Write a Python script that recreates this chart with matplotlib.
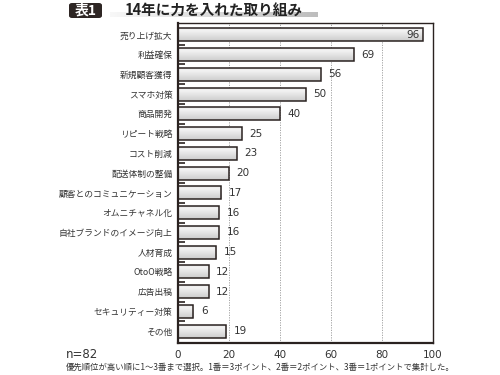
import numpy as np
import matplotlib
matplotlib.use("Agg")
import matplotlib.pyplot as plt
from matplotlib.patches import FancyBboxPatch

plt.rcParams['font.family'] = ['Noto Sans CJK JP', 'DejaVu Sans']

categories = ["売り上げ拡大", "利益確保", "新規顧客獲得", "スマホ対策", "商品開発",
              "リピート戦略", "コスト削減", "配送体制の整備", "顧客とのコミュニケーション",
              "オムニチャネル化", "自社ブランドのイメージ向上", "人材育成", "OtoO戦略",
              "広告出稿", "セキュリティー対策", "その他"]
values = [96, 69, 56, 50, 40, 25, 23, 20, 17, 16, 16, 15, 12, 12, 6, 19]
xticks = [0, 20, 40, 60, 80, 100]

title = "14年に力を入れた取り組み"
sample = "n=82"
note = "優先順位が高い順に1～3番まで選択。1番＝3ポイント、2番＝2ポイント、3番＝1ポイントで集計した。"

fig = plt.figure(figsize=(5, 3.75), dpi=100)
ax = fig.add_axes([178/500, 1 - 343/375, 255/500, 320/375])

n = len(categories)
y = np.arange(n)
h = 0.66

# bar shading: light rim on top, getting darker to the bottom
grad = np.concatenate([np.linspace(0.86, 0.96, 16), np.linspace(0.95, 0.80, 48)]).reshape(-1, 1)

bars = ax.barh(y, values, height=h, color="none", edgecolor="#2a2220", linewidth=1.1, zorder=3)
for b in bars:
    x0, y0 = b.get_x(), b.get_y()
    w, hh = b.get_width(), b.get_height()
    im = ax.imshow(grad, cmap="gray", vmin=0, vmax=1, aspect="auto",
                   extent=[x0, x0 + w, y0 + hh, y0], zorder=2, interpolation="bicubic")
    im.set_clip_path(b)

for i, v in enumerate(values):
    if v > 90:
        ax.text(v - 1.2, i, str(v), ha="right", va="center", fontsize=7.5, color="#333333",
                family="DejaVu Sans", zorder=4)
    else:
        ax.text(v + 3, i, str(v), ha="left", va="center", fontsize=7.5, color="#333333",
                family="DejaVu Sans", zorder=4)

ax.set_xlim(0, 100)
ax.set_ylim(n - 0.4, -0.6)
ax.set_xticks(xticks)
ax.set_xticklabels([str(t) for t in xticks], fontsize=7.5, color="#333333", family="DejaVu Sans")
ax.set_yticks(y)
ax.set_yticklabels(categories, fontsize=6.3, color="#333333")
ax.tick_params(axis="y", length=0, pad=4)
ax.tick_params(axis="x", length=0, pad=5)

# small marks between categories on the left axis
ax.set_yticks(np.arange(n - 1) + 0.5, minor=True)
ax.tick_params(axis="y", which="minor", direction="in", length=5, width=1.2, color="#2a2220")

ax.grid(axis="x", linestyle=(0, (1.5, 1.5)), color="#999999", linewidth=0.6, zorder=0)
ax.set_axisbelow(True)
for side in ["left", "bottom"]:
    ax.spines[side].set_linewidth(1.6)
    ax.spines[side].set_color("#2a2220")
for side in ["top", "right"]:
    ax.spines[side].set_linewidth(1.0)
    ax.spines[side].set_color("#2a2220")

# title block
box = FancyBboxPatch((69/500, 1 - 18/375), 33/500, 15/375,
                     boxstyle="round,pad=0,rounding_size=0.006",
                     transform=fig.transFigure, facecolor="#2e2624", edgecolor="none")
fig.patches.append(box)
fig.text(85.5/500, 1 - 10.5/375, "表1", ha="center", va="center", fontsize=10,
         color="white", fontweight="bold")
# gray band behind the title, fading out to the left
band_ax = fig.add_axes([110/500, 1 - 17/375, 208/500, 5/375], zorder=-1)
band_ax.imshow(np.linspace(0.97, 0.74, 100).reshape(1, -1), cmap="gray", vmin=0, vmax=1,
               aspect="auto", extent=[0, 1, 0, 1])
band_ax.axis("off")
fig.text(125/500, 1 - 10/375, title, ha="left", va="center", fontsize=10.5,
         color="#222222", fontweight="bold")

fig.text(66/500, 1 - 354/375, sample, ha="left", va="center", fontsize=8.5,
         color="#333333", family="DejaVu Sans")
fig.text(66/500, 1 - 367/375, note, ha="left", va="center", fontsize=6.0, color="#333333")

fig.savefig("out.png", dpi=100)
